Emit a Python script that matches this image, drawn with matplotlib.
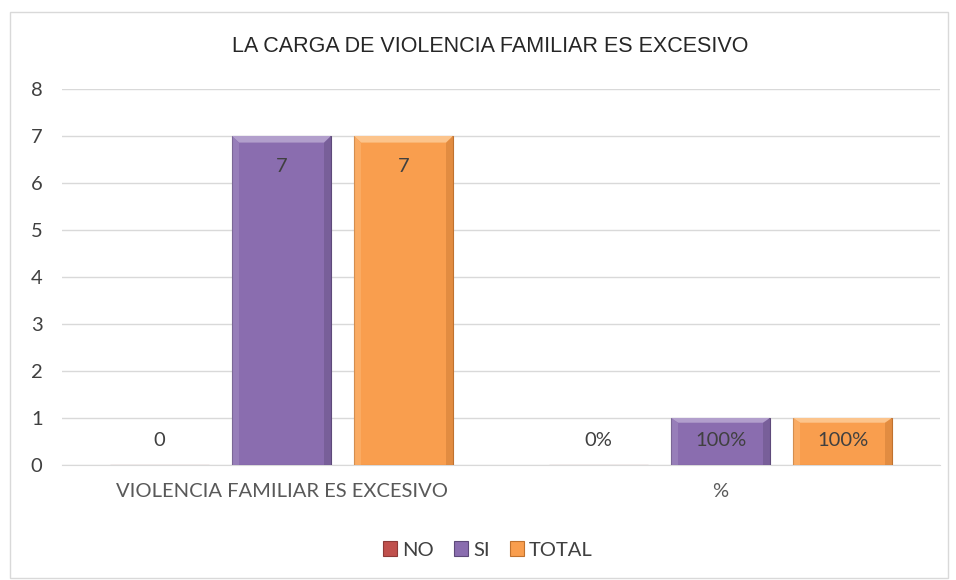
import matplotlib
matplotlib.use("Agg")
import matplotlib.pyplot as plt
from matplotlib.patches import Polygon, Rectangle
import numpy as np

categories = ["VIOLENCIA FAMILIAR ES EXCESIVO", "%"]
series_names = ["NO", "SI", "TOTAL"]
no_vals = [0, 0]
si_vals = [7, 1]
total_vals = [7, 1]
no_labels = ["0", "0%"]
si_labels = ["7", "100%"]
total_labels = ["7", "100%"]
yticks = [0, 1, 2, 3, 4, 5, 6, 7, 8]
title = "LA CARGA DE VIOLENCIA FAMILIAR ES EXCESIVO"

colors = {"NO": "#C0504D", "SI": "#8A6DAF", "TOTAL": "#F99E4E"}
light = {"NO": "#D98684", "SI": "#B29FCC", "TOTAL": "#FCC48C"}
dark = {"NO": "#8E3A38", "SI": "#5E4A7A", "TOTAL": "#C0722F"}

FONT = "Lato"
FS = 14.5

fig = plt.figure(figsize=(9.56, 5.8), dpi=100)
fig.patch.set_facecolor("white")
fig.add_artist(Rectangle((10/956, 2/580), 938/956, 566/580, transform=fig.transFigure,
                         fill=False, edgecolor="#D9D9D9", linewidth=1))

ax = fig.add_axes([62/956, 115/580, 878/956, 376/580])
ax.set_ylim(0, 8)
ax.set_xlim(-0.5, 1.5)
x = np.arange(len(categories))
width = 0.225
step = 0.278

def draw(vals, labels, offset, name):
    bars = ax.bar(x + offset, vals, width, color=colors[name], edgecolor=dark[name],
                  linewidth=0.8, zorder=3)
    for b, v, lab in zip(bars, vals, labels):
        if v > 0:
            x0 = b.get_x(); x1 = x0 + b.get_width(); h = b.get_height()
            bw = 0.016; bh = 0.14 if h > 2 else 0.1
            ax.add_patch(Polygon([(x0, h), (x1, h), (x1 - bw, h - bh), (x0 + bw, h - bh)],
                                 closed=True, facecolor=light[name], edgecolor="none", zorder=4))
            ax.add_patch(Polygon([(x1, h), (x1, 0), (x1 - bw, 0), (x1 - bw, h - bh)],
                                 closed=True, facecolor=dark[name], edgecolor="none", alpha=0.4, zorder=4))
            ax.add_patch(Polygon([(x0, h), (x0, 0), (x0 + bw, 0), (x0 + bw, h - bh)],
                                 closed=True, facecolor=light[name], edgecolor="none", alpha=0.35, zorder=4))
        ypos = max(v - 0.65, 0.53)
        ax.text(b.get_x() + b.get_width()/2, ypos, lab, ha="center", va="center",
                fontsize=FS, color="#404040", family=FONT, zorder=5)
    return bars

h_no = draw(no_vals, no_labels, -step, "NO")
h_si = draw(si_vals, si_labels, 0, "SI")
h_tot = draw(total_vals, total_labels, step, "TOTAL")

ax.set_yticks(yticks)
ax.set_yticklabels([str(t) for t in yticks], fontsize=FS, color="#404040", family=FONT)
ax.set_xticks(x)
ax.set_xticklabels(categories, fontsize=FS, color="#595959", family=FONT)
ax.tick_params(axis="y", length=0, pad=14)
ax.tick_params(axis="x", length=0, pad=13)
ax.grid(axis="y", color="#D9D9D9", linewidth=1, zorder=0)
ax.set_axisbelow(True)
for s in ["top", "right", "left"]:
    ax.spines[s].set_visible(False)
ax.spines["bottom"].set_color("#D9D9D9")

fig.text(490/956, 1 - 46/580, title, ha="center", va="center", fontsize=15.5,
         color="#262626", family="Liberation Sans")

leg = fig.legend([h_no, h_si, h_tot], series_names, loc="center", bbox_to_anchor=(488/956, 1 - 550/580),
                 ncol=3, frameon=False, handlelength=0.7, handleheight=0.7,
                 handletextpad=0.25, columnspacing=1.0, prop={"family": FONT, "size": FS})
for t in leg.get_texts():
    t.set_color("#404040")

fig.savefig("out.png", dpi=100, facecolor="white")
